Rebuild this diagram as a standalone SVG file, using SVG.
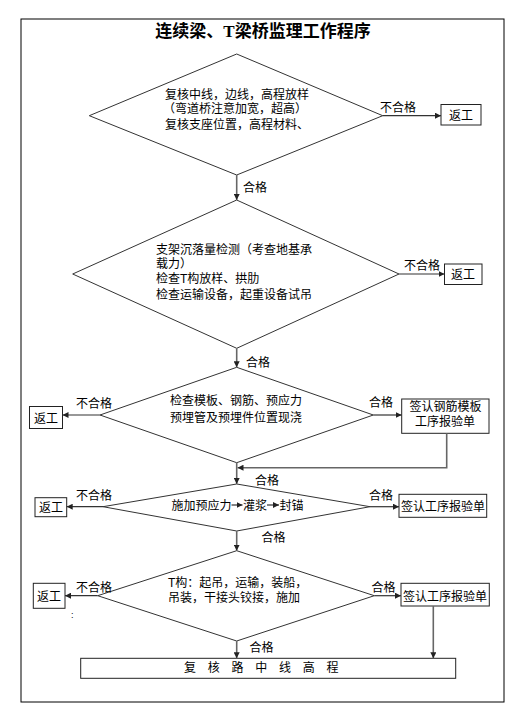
<svg xmlns="http://www.w3.org/2000/svg" width="518" height="722" viewBox="0 0 518 722">
<defs>
<marker id="ah" viewBox="0 0 10 10" refX="10" refY="5" markerWidth="6" markerHeight="6" markerUnits="userSpaceOnUse" orient="auto">
<path d="M0,0 L10,5 L0,10 z" fill="#222"/>
</marker>
<style>
text{font-family:"Liberation Sans","Noto Sans CJK SC",sans-serif;font-size:12px;fill:#000}
.title{font-size:17px;font-weight:bold;font-family:"Liberation Serif","Noto Sans CJK SC",serif}
.shape{fill:#fff;stroke:#222;stroke-width:1}
.dia{fill:none;stroke:#333;stroke-width:1}
.h{stroke:#333;stroke-width:1.2;fill:none;marker-end:url(#ah)}
.v{stroke:#666;stroke-width:1.6;fill:none;marker-end:url(#ah)}
.c{text-anchor:middle}
</style>
</defs>
<rect x="0" y="0" width="518" height="722" fill="#fff"/>
<rect id="frame" x="21" y="19" width="483" height="683" fill="none" stroke="#000" stroke-width="1"/>
<text id="title" class="title c" x="263" y="37">连续梁、T梁桥监理工作程序</text>

<g id="d1">
<polygon class="dia" points="236.7,54 382.7,115.7 236.7,175 89.3,115.7"/>
<text x="165" y="99">复核中线，边线，高程放样</text>
<text x="163" y="113">（弯道桥注意加宽，超高）</text>
<text x="165" y="129">复核支座位置，高程材料、</text>
</g>
<g id="r1"><rect class="shape" x="441" y="104.5" width="40" height="20.5"/><text class="c" x="461" y="120">返工</text></g>

<g id="d2">
<polygon class="dia" points="236.7,200 399,274 236.7,348.3 72.7,274"/>
<text x="156" y="253.5">支架沉落量检测（考查地基承</text>
<text x="156" y="268">载力）</text>
<text x="156" y="283">检查T构放样、拱肋</text>
<text x="156" y="298.5">检查运输设备，起重设备试吊</text>
</g>
<g id="r2"><rect class="shape" x="444.5" y="264" width="37.5" height="20.5"/><text class="c" x="463" y="279">返工</text></g>

<g id="d3">
<polygon class="dia" points="236.7,367.3 373.3,415 236.7,462.7 100,415"/>
<text x="170" y="405">检查模板、钢筋、预应力</text>
<text x="170" y="421.5">预埋管及预埋件位置现浇</text>
</g>
<g id="r3"><rect class="shape" x="29.5" y="406.5" width="33" height="22"/><text class="c" x="46" y="422.5">返工</text></g>
<g id="s1"><rect class="shape" x="401.7" y="399" width="87.3" height="34.3"/><text class="c" x="445.5" y="410.5">签认钢筋模板</text><text class="c" x="445" y="426">工序报验单</text></g>

<g id="d4">
<polygon class="dia" points="236.7,484 370,506.7 236.7,531 103,506.7"/>
<text x="171.5" y="510">施加预应力</text>
<text x="243" y="510">灌浆</text>
<text x="279.5" y="510">封锚</text>
</g>
<g id="r4"><rect class="shape" x="35" y="497.7" width="31.7" height="19"/><text class="c" x="51" y="512">返工</text></g>
<g id="s2"><rect class="shape" x="399" y="494.3" width="87.7" height="23"/><text class="c" x="443" y="511">签认工序报验单</text></g>

<g id="d5">
<polygon class="dia" points="236.7,550.7 374.3,595.7 236.7,641 97.7,595.7"/>
<text x="168" y="587">T构：起吊，运输，装船，</text>
<text x="168" y="602">吊装，干接头铰接，施加</text>
</g>
<g id="r5"><rect class="shape" x="33.3" y="583.3" width="31.7" height="25"/><text class="c" x="49" y="601">返工</text></g>
<g id="s3"><rect class="shape" x="401" y="583.3" width="88.3" height="22.7"/><text class="c" x="445" y="601">签认工序报验单</text></g>
<text id="dots" x="71" y="618" style="font-size:9px">:</text>

<g id="final"><rect class="shape" x="80.7" y="658.3" width="375" height="20"/><text x="184" y="672" style="letter-spacing:4.2px">复 核 路 中 线 高 程</text></g>

<g id="connectors">
<line class="h" x1="382.7" y1="115.7" x2="441" y2="115.7"/>
<line class="v" x1="236.7" y1="175" x2="236.7" y2="200"/>
<line class="h" x1="399" y1="274" x2="444.5" y2="274"/>
<line class="v" x1="236.7" y1="348.3" x2="236.7" y2="367.3"/>
<line class="h" x1="100" y1="415" x2="62.5" y2="415"/>
<line class="h" x1="373.3" y1="415" x2="401.7" y2="415"/>
<line class="v" x1="236.7" y1="462.7" x2="236.7" y2="484"/>
<polyline class="v" points="446.7,433.3 446.7,467.7 237.5,467.7"/>
<line class="h" x1="103" y1="506.7" x2="66.7" y2="506.7"/>
<line class="h" x1="370" y1="506.7" x2="399" y2="506.7"/>
<line class="h" x1="231.5" y1="505" x2="242.5" y2="505"/>
<line class="h" x1="267" y1="505" x2="279" y2="505"/>
<line class="v" x1="236.7" y1="531" x2="236.7" y2="550.7"/>
<line class="h" x1="97.7" y1="595.7" x2="65" y2="595.7"/>
<line class="h" x1="374.3" y1="595.7" x2="401" y2="595.7"/>
<line class="v" x1="433.3" y1="606" x2="433.3" y2="658.3"/>
<line class="v" x1="236.7" y1="641" x2="236.7" y2="658.3"/>
</g>

<g id="labels">
<text x="380" y="112">不合格</text>
<text x="243" y="192">合格</text>
<text x="404" y="270">不合格</text>
<text x="246" y="367">合格</text>
<text x="76" y="408">不合格</text>
<text x="369" y="406.5">合格</text>
<text x="255" y="484.5">合格</text>
<text x="76" y="500">不合格</text>
<text x="369" y="500">合格</text>
<text x="261.5" y="542">合格</text>
<text x="76" y="591.5">不合格</text>
<text x="371.5" y="591.5">合格</text>
<text x="249.5" y="651.5">合格</text>
</g>
</svg>
